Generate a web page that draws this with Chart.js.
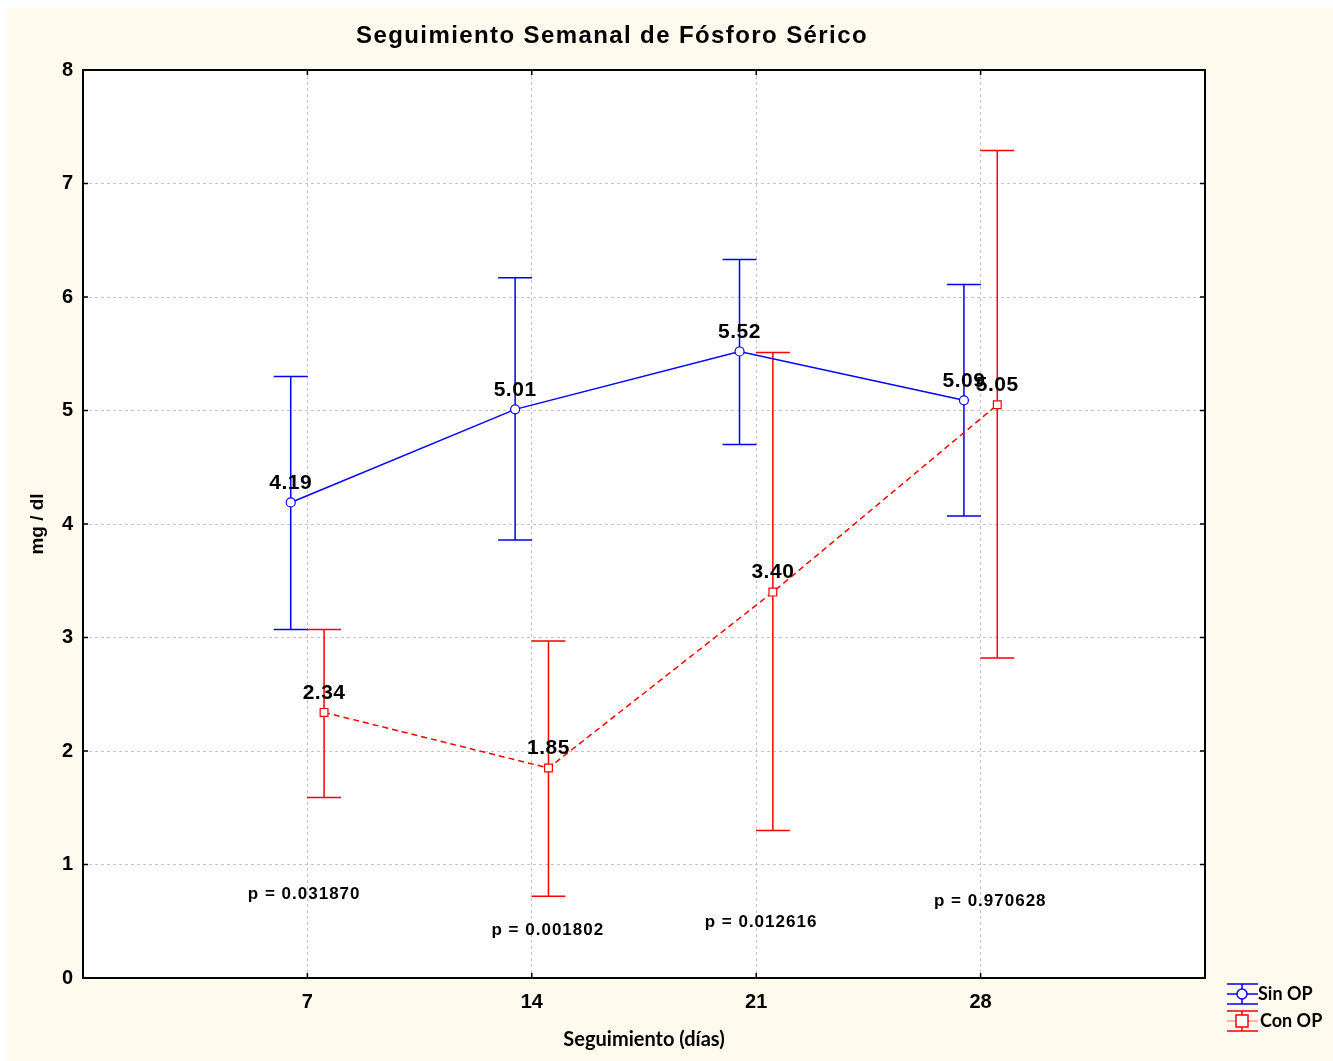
<!DOCTYPE html>
<html>
<head>
<meta charset="utf-8">
<script src="https://cdn.jsdelivr.net/npm/chart.js@4.4.1/dist/chart.umd.min.js"></script>
<style>
	body { margin: 0; background: #ffffff; }
	#wrap { position: absolute; left: 7px; top: 7px; width: 1326px; height: 1054px; background: #fff9ee; }
</style>
</head>
<body>
<div id="wrap"><canvas id="chart"></canvas></div>
<script>
// data
var days = [7, 14, 21, 28];
var xTicks = [7, 14, 21, 28];
var seriesNames = ['Sin OP', 'Con OP'];

var sinOP = [4.19, 5.01, 5.52, 5.09];
var sinOPHigh = [5.30, 6.17, 6.33, 6.11];
var sinOPLow = [3.07, 3.86, 4.70, 4.07];

var conOP = [2.34, 1.85, 3.40, 5.05];
var conOPHigh = [3.07, 2.97, 5.51, 7.29];
var conOPLow = [1.59, 0.72, 1.30, 2.82];

var pTexts = ['p = 0.031870', 'p = 0.001802', 'p = 0.012616', 'p = 0.970628'];
var pX = [6.9, 14.5, 21.15, 28.3];
var pY = [0.74, 0.42, 0.49, 0.68];

var titleText = 'Seguimiento Semanal de Fósforo Sérico';

var shift = 0.52;
var blue = '#0000ff';
var red = '#ff0000';
var font = "'Liberation Sans', Arial, sans-serif";

function points(values, offset) {
	return values.map(function (v, i) {
		return { x: days[i] + offset, y: v };
	});
}

var errors = [
	{ high: sinOPHigh, low: sinOPLow, color: blue },
	{ high: conOPHigh, low: conOPLow, color: red }
];

var decorations = {
	id: 'decorations',
	beforeDraw: function (chart) {
		var a = chart.chartArea, ctx = chart.ctx;
		ctx.save();
		ctx.fillStyle = '#ffffff';
		ctx.fillRect(a.left, a.top, a.right - a.left, a.bottom - a.top);
		ctx.restore();
	},
	beforeDatasetsDraw: function (chart) {
		var ctx = chart.ctx, ys = chart.scales.y;
		ctx.save();
		ctx.lineWidth = 1.5;
		errors.forEach(function (e, d) {
			var meta = chart.getDatasetMeta(d);
			ctx.strokeStyle = e.color;
			meta.data.forEach(function (pt, i) {
				var top = ys.getPixelForValue(e.high[i]);
				var bottom = ys.getPixelForValue(e.low[i]);
				ctx.beginPath();
				ctx.moveTo(pt.x, top);
				ctx.lineTo(pt.x, bottom);
				ctx.moveTo(pt.x - 17, top);
				ctx.lineTo(pt.x + 17, top);
				ctx.moveTo(pt.x - 17, bottom);
				ctx.lineTo(pt.x + 17, bottom);
				ctx.stroke();
			});
		});
		ctx.restore();
	},
	afterDatasetsDraw: function (chart) {
		var ctx = chart.ctx, xs = chart.scales.x, ys = chart.scales.y;
		ctx.save();
		ctx.fillStyle = '#000000';
		ctx.textAlign = 'center';
		ctx.textBaseline = 'bottom';
		ctx.font = 'bold 21px ' + font;
		ctx.letterSpacing = '0.5px';
		chart.data.datasets.forEach(function (ds, d) {
			chart.getDatasetMeta(d).data.forEach(function (pt, i) {
				ctx.fillText(ds.data[i].y.toFixed(2), pt.x, pt.y - 9);
			});
		});
		ctx.font = 'bold 17px ' + font;
		ctx.letterSpacing = '1px';
		ctx.textBaseline = 'middle';
		pTexts.forEach(function (t, i) {
			ctx.fillText(t, xs.getPixelForValue(pX[i]), ys.getPixelForValue(pY[i]));
		});
		ctx.restore();
	},
	afterDraw: function (chart) {
		var a = chart.chartArea, ctx = chart.ctx, xs = chart.scales.x, ys = chart.scales.y;
		ctx.save();
		ctx.strokeStyle = '#000000';
		ctx.lineWidth = 2;
		ctx.strokeRect(a.left, a.top, a.right - a.left, a.bottom - a.top);

		// inward ticks
		ctx.lineWidth = 1.5;
		ctx.beginPath();
		xTicks.forEach(function (v) {
			var x = xs.getPixelForValue(v);
			ctx.moveTo(x, a.top); ctx.lineTo(x, a.top + 5);
			ctx.moveTo(x, a.bottom); ctx.lineTo(x, a.bottom - 5);
		});
		ys.ticks.forEach(function (t) {
			var y = ys.getPixelForValue(t.value);
			ctx.moveTo(a.left, y); ctx.lineTo(a.left + 5, y);
			ctx.moveTo(a.right, y); ctx.lineTo(a.right - 5, y);
		});
		ctx.stroke();

		// title
		ctx.fillStyle = '#000000';
		ctx.font = 'bold 24px ' + font;
		ctx.letterSpacing = '1.4px';
		ctx.textAlign = 'center';
		ctx.textBaseline = 'middle';
		ctx.fillText(titleText, 605, 29);

		// legend
		ctx.letterSpacing = '0px';
		ctx.font = 'bold 18px Lato, sans-serif';
		ctx.textAlign = 'left';
		var legend = [
			{ y: 987, color: blue, style: 'circle' },
			{ y: 1014, color: red, style: 'rect' }
		];
		legend.forEach(function (l, i) {
			var cx = 1235;
			ctx.strokeStyle = l.color;
			ctx.lineWidth = 1.5;
			ctx.beginPath();
			ctx.moveTo(1220, l.y - 10); ctx.lineTo(1251, l.y - 10);
			ctx.moveTo(1220, l.y + 10); ctx.lineTo(1251, l.y + 10);
			ctx.moveTo(cx, l.y - 10); ctx.lineTo(cx, l.y + 10);
			ctx.stroke();
			ctx.strokeStyle = i === 0 ? l.color : '#ff9999';
			ctx.beginPath();
			ctx.moveTo(1220, l.y); ctx.lineTo(1251, l.y);
			ctx.stroke();
			ctx.fillStyle = '#ffffff';
			ctx.strokeStyle = l.color;
			ctx.beginPath();
			if (l.style === 'circle') {
				ctx.arc(cx, l.y, 5, 0, Math.PI * 2);
			} else {
				ctx.rect(cx - 6, l.y - 6, 12, 12);
			}
			ctx.fill();
			ctx.stroke();
			ctx.fillStyle = '#000000';
			ctx.textBaseline = 'middle';
			ctx.fillText(seriesNames[i], i === 0 ? 1251 : 1253, l.y);
		});
		ctx.restore();
	}
};

new Chart(document.getElementById('chart'), {
	type: 'line',
	data: {
		datasets: [
			{
				label: seriesNames[0],
				data: points(sinOP, -shift),
				borderColor: blue,
				borderWidth: 1.5,
				pointStyle: 'circle',
				pointRadius: 4.5,
				pointBackgroundColor: '#ffffff',
				pointBorderColor: blue,
				pointBorderWidth: 1.2,
				tension: 0
			},
			{
				label: seriesNames[1],
				data: points(conOP, shift),
				borderColor: red,
				borderWidth: 1.5,
				borderDash: [6, 4],
				pointStyle: 'rect',
				pointRadius: 5.5,
				pointBackgroundColor: '#ffffff',
				pointBorderColor: red,
				pointBorderWidth: 1.2,
				tension: 0
			}
		]
	},
	options: {
		responsive: true,
		maintainAspectRatio: false,
		animation: false,
		layout: { padding: { top: 63, left: 12, right: 128, bottom: 0 } },
		plugins: {
			legend: { display: false },
			title: { display: false },
			tooltip: { enabled: false }
		},
		scales: {
			x: {
				type: 'linear',
				min: 0,
				max: 35,
				afterBuildTicks: function (scale) {
					scale.ticks = xTicks.map(function (v) { return { value: v }; });
				},
				afterFit: function (scale) { scale.height = 83; },
				grid: { color: '#c4c4c4', drawTicks: false },
				border: { display: false, dash: [3, 3] },
				ticks: {
					padding: 12,
					color: '#000000',
					font: { family: font, size: 20, weight: 'bold' }
				},
				title: {
					display: true,
					text: 'Seguimiento (días)',
					color: '#000000',
					font: { family: 'Lato, sans-serif', size: 20, weight: 'bold' },
					padding: { top: 0, bottom: 9 }
				}
			},
			y: {
				min: 0,
				max: 8,
				afterFit: function (scale) { scale.width = 64; },
				grid: { color: '#c4c4c4', drawTicks: false },
				border: { display: false, dash: [3, 3] },
				ticks: {
					stepSize: 1,
					padding: 10,
					color: '#000000',
					font: { family: font, size: 20, weight: 'bold' }
				},
				title: {
					display: true,
					text: 'mg / dl',
					color: '#000000',
					font: { family: font, size: 19, weight: 'bold' },
					padding: { top: 7, bottom: 0 }
				}
			}
		}
	},
	plugins: [decorations]
});
</script>
</body>
</html>
